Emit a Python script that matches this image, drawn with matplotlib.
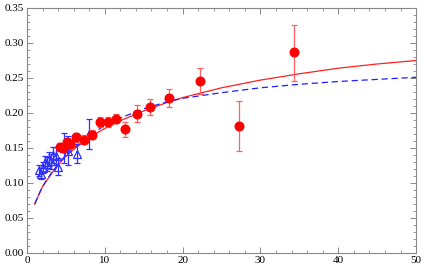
import matplotlib
matplotlib.use("Agg")
import matplotlib.pyplot as plt
from matplotlib.ticker import MultipleLocator

# Red data points (x, y, lower/upper error)
red_x = [4.2, 4.6, 5.1, 5.5, 6.3, 7.3, 8.3, 9.4, 10.4, 11.4, 12.6, 14.1, 15.8, 18.3, 22.2, 27.2, 34.3]
red_y = [0.151, 0.150, 0.158, 0.156, 0.165, 0.162, 0.169, 0.187, 0.187, 0.192, 0.177, 0.199, 0.209, 0.221, 0.246, 0.182, 0.287]
red_err_lo = [0.006, 0.006, 0.006, 0.006, 0.006, 0.006, 0.006, 0.007, 0.007, 0.007, 0.011, 0.012, 0.012, 0.013, 0.019, 0.036, 0.042]
red_err_hi = [0.006, 0.006, 0.006, 0.006, 0.006, 0.006, 0.006, 0.007, 0.007, 0.007, 0.010, 0.012, 0.011, 0.013, 0.018, 0.035, 0.039]

# Blue data points (triangles)
blue_x = [1.5, 1.8, 2.0, 2.3, 2.6, 2.8, 3.1, 3.3, 3.7, 4.0, 4.8, 5.3, 6.4, 8.0]
blue_y = [0.118, 0.113, 0.122, 0.130, 0.127, 0.134, 0.131, 0.140, 0.138, 0.123, 0.150, 0.146, 0.142, 0.170]
blue_err = [0.008, 0.008, 0.008, 0.009, 0.010, 0.010, 0.011, 0.012, 0.013, 0.012, 0.021, 0.021, 0.014, 0.022]

# Curves
red_curve_x = [1.0, 1.5, 2.0, 3.0, 4.0, 5.0, 6.0, 8.0, 10.0, 12.0, 15.0, 18.0, 20.0, 25.0, 30.0, 35.0, 40.0, 45.0, 50.0]
red_curve_y = [0.070, 0.083, 0.095, 0.111, 0.126, 0.138, 0.148, 0.165, 0.178, 0.189, 0.203, 0.215, 0.222, 0.236, 0.247, 0.256, 0.264, 0.270, 0.275]
blue_curve_x = [1.0, 1.5, 2.0, 3.0, 4.0, 5.0, 6.0, 8.0, 10.0, 12.0, 15.0, 18.0, 20.0, 25.0, 30.0, 35.0, 40.0, 45.0, 50.0]
blue_curve_y = [0.070, 0.083, 0.095, 0.112, 0.127, 0.140, 0.150, 0.168, 0.182, 0.193, 0.206, 0.216, 0.221, 0.229, 0.236, 0.241, 0.245, 0.248, 0.251]

plt.rcParams['font.family'] = ['Liberation Serif', 'DejaVu Serif']

fig = plt.figure(figsize=(4.25, 2.72), dpi=100)
ax = fig.add_axes([0.0635, 0.0699, 0.9155, 0.9007])

ax.plot(red_curve_x, red_curve_y, color='#ff2020', lw=0.9, zorder=2)
ax.plot(blue_curve_x, blue_curve_y, color='#2020ff', lw=0.9, ls=(0, (5, 3)), zorder=2)

ax.errorbar(blue_x, blue_y, yerr=blue_err, fmt='^', mfc='none', mec='#3030ff',
            ms=5.5, mew=0.9, ecolor='#3030ff', elinewidth=0.9, capsize=2.5, capthick=0.9, zorder=3)
ax.errorbar(red_x, red_y, yerr=[red_err_lo, red_err_hi], fmt='o', color='red', ms=6.2,
            ecolor='#ff6060', elinewidth=0.9, capsize=2.5, capthick=0.9, zorder=4)

ax.set_xlim(0, 50)
ax.set_ylim(0, 0.35)
ax.xaxis.set_major_locator(MultipleLocator(10))
ax.xaxis.set_minor_locator(MultipleLocator(2))
ax.yaxis.set_major_locator(MultipleLocator(0.05))
ax.yaxis.set_minor_locator(MultipleLocator(0.01))
ax.set_yticklabels([f"{v:.2f}" for v in ax.get_yticks()])

for s in ax.spines.values():
    s.set_color('#888888')
    s.set_linewidth(0.8)
ax.tick_params(which='both', direction='in', top=True, right=True, color='#888888',
               labelsize=8, pad=2)
ax.tick_params(which='major', length=4, width=0.7)
ax.tick_params(which='minor', length=2, width=0.6)

fig.savefig('out.png', dpi=100)
